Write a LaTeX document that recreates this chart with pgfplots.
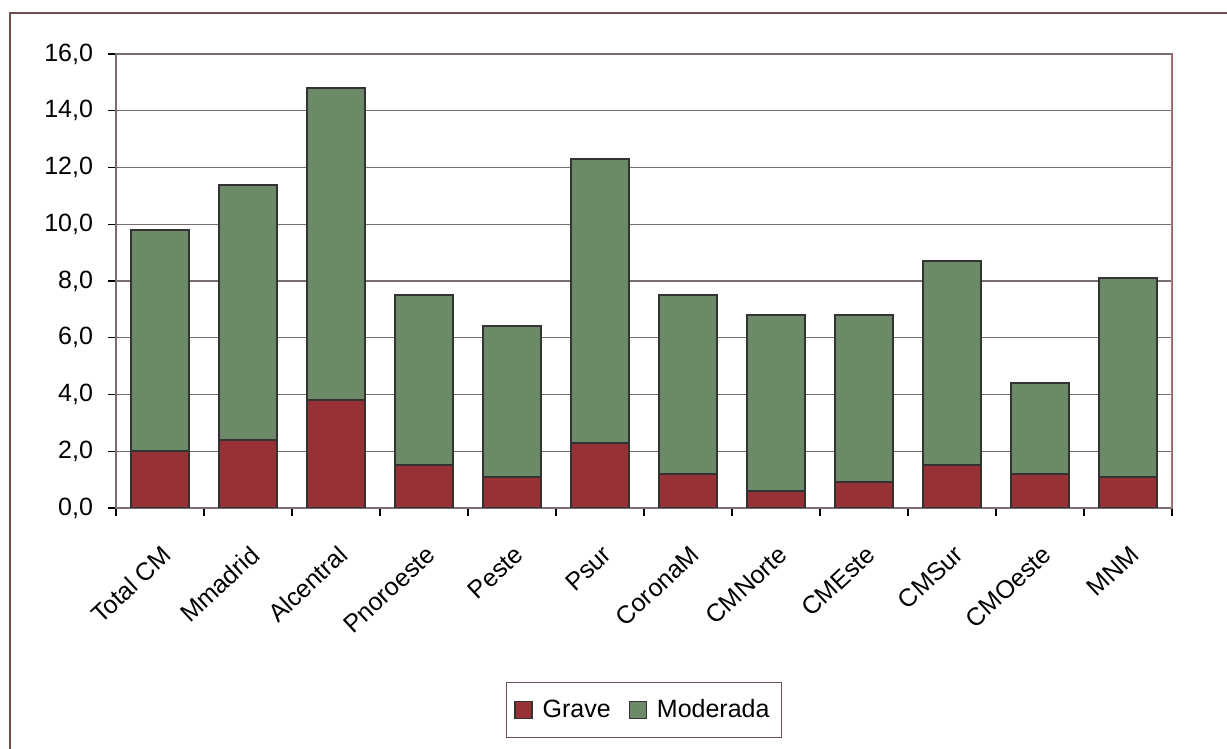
\documentclass[border=0pt]{standalone}
\usepackage{pgfplots}
\pgfplotsset{compat=1.18}
\usepackage{fontspec}
\setmainfont{Liberation Sans}

\definecolor{grave}{RGB}{150,50,54}
\definecolor{moderada}{RGB}{108,138,104}
\definecolor{gridc}{RGB}{120,110,110}
\definecolor{framec}{RGB}{110,80,80}
\definecolor{boxright}{RGB}{200,110,115}

% totals per area and the "Grave" part; "Moderada" is the rest
\pgfplotstableread{
x grave moderada
0  2.0  7.8
1  2.4  9.0
2  3.8  11.0
3  1.5  6.0
4  1.1  5.3
5  2.3  10.0
6  1.2  6.3
7  0.6  6.2
8  0.9  5.9
9  1.5  7.2
10 1.2  3.2
11 1.1  7.0
}\datatable

\begin{document}
\begin{tikzpicture}
\begin{axis}[
  at={(0pt,0pt)}, anchor=south west,
  scale only axis,
  width=528pt, height=227pt,
  ybar stacked,
  bar width=29pt,
  xmin=-0.5, xmax=11.5,
  ymin=0, ymax=16,
  ytick={0,2,...,16},
  xtick={-0.5,0.5,...,11.5},
  x tick label as interval,
  xticklabels={Total CM,Mmadrid,Alcentral,Pnoroeste,Peste,Psur,CoronaM,CMNorte,CMEste,CMSur,CMOeste,MNM},
  xticklabel style={xshift=0.5pt, yshift=-12.5pt, rotate=43, anchor=north east, font=\fontsize{12.5}{14}\selectfont, inner sep=1pt},
  yticklabel style={font=\fontsize{12.5}{14}\selectfont, xshift=-4pt},
  /pgf/number format/.cd, fixed, fixed zerofill, precision=1, use comma, assume math mode=true,
  /pgfplots/.cd,
  tick align=outside,
  tick pos=left,
  major tick length=4pt,
  tick style={black, line width=0.6pt},
  ymajorgrids,
  grid style={gridc, line width=0.6pt},
  axis line style={gridc, line width=0.6pt},
  legend style={at={(0.5,0)}, anchor=center, yshift=-101pt, draw=framec, line width=0.5pt,
    legend columns=2, font=\fontsize{12.5}{14}\selectfont,
    inner xsep=4pt, inner ysep=6.5pt,
    /tikz/every odd column/.append style={column sep=3pt},
    /tikz/every even column/.append style={column sep=7pt}},
  legend image code/.code={\draw[#1, line width=0.6pt] (0pt,-4.2pt) rectangle (8.5pt,4.2pt);},
]
\addplot[fill=grave, draw=black!80, line width=1pt] table[x=x, y=grave] {\datatable};
\addplot[fill=moderada, draw=black!80, line width=1pt] table[x=x, y=moderada] {\datatable};
\legend{Grave, Moderada}
% right edge of the plot box
\draw[boxright, line width=0.7pt] (rel axis cs:1,0) -- (rel axis cs:1,1);
\end{axis}
% page frame
\draw[framec, line width=0.7pt] (-53pt,-130pt) -- (-53pt,247.5pt) -- (570pt,247.5pt);
\pgfresetboundingbox
\useasboundingbox (-58pt,-120.5pt) rectangle (555.5pt,254pt);
\end{tikzpicture}
\end{document}
